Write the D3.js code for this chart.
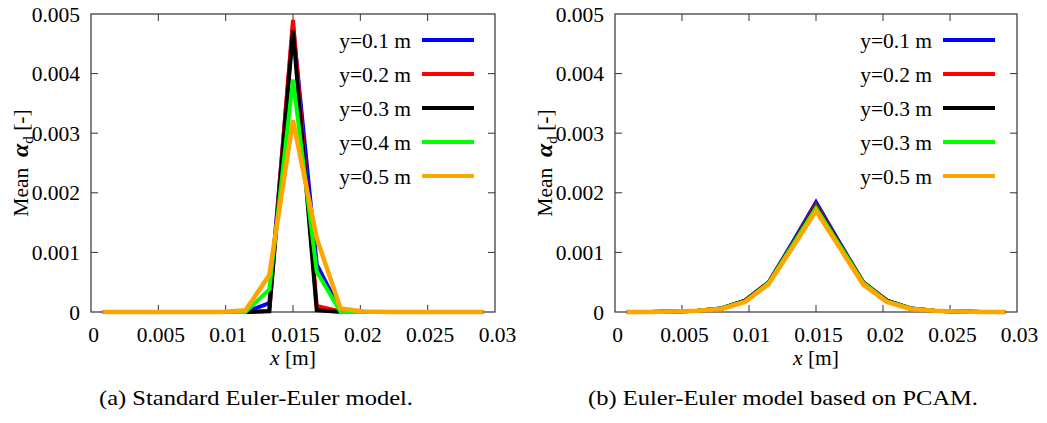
<!DOCTYPE html>
<html><head><meta charset="utf-8">
<script src="https://cdn.jsdelivr.net/npm/d3@7"></script>
<style>body{margin:0;background:#fff}svg{display:block}</style>
</head><body><svg id="c" width="1047" height="423" font-family="'Liberation Serif', 'DejaVu Serif', serif"></svg>
<script>
// x positions (cell centres, m)
const xCells = [0.00088,0.00265,0.00441,0.00618,0.00794,0.00971,0.01147,0.01324,0.015,0.01676,0.01853,0.02029,0.02206,0.02382,0.02559,0.02735,0.02912];
const xTicks = [0,0.005,0.01,0.015,0.02,0.025,0.03];
const xTickLabels = ["0","0.005","0.01","0.015","0.02","0.025","0.03"];
const yTicks = [0,0.001,0.002,0.003,0.004,0.005];
const yTickLabels = ["0","0.001","0.002","0.003","0.004","0.005"];
const seriesColors = ["#0000ff","#ff0000","#000000","#00ff00","#ffa500"];

// (a) Standard Euler-Euler model
const namesA = ["y=0.1 m","y=0.2 m","y=0.3 m","y=0.4 m","y=0.5 m"];
const a_y01 = [0,0,0,0,0,0,0,0.00015,0.0048,0.0008,0.00002,0,0,0,0,0,0];
const a_y02 = [0,0,0,0,0,0,0,0.00002,0.0049,0.0001,0.00001,0,0,0,0,0,0];
const a_y03 = [0,0,0,0,0,0,0,0.00001,0.00472,0.00003,0,0,0,0,0,0,0];
const a_y04 = [0,0,0,0,0,0,0,0.00038,0.0039,0.00068,0,0,0,0,0,0,0];
const a_y05 = [0,0,0,0,0,0,0.00003,0.00062,0.00322,0.00124,0.00006,0.00001,0,0,0,0,0];

// (b) Euler-Euler model based on PCAM
const namesB = ["y=0.1 m","y=0.2 m","y=0.3 m","y=0.3 m","y=0.5 m"];
const b_y01 = [0,0,0.00001,0.00002,0.00006,0.00019,0.0005,0.00116,0.00184,0.00116,0.0005,0.00019,0.00006,0.00002,0.00001,0,0];
const b_y02 = [0,0,0.00001,0.00002,0.00006,0.00019,0.0005,0.00114,0.0018,0.00114,0.0005,0.00019,0.00006,0.00002,0.00001,0,0];
const b_y03 = [0,0,0.00001,0.00002,0.00006,0.00019,0.00049,0.00113,0.00177,0.00113,0.00049,0.00019,0.00006,0.00002,0.00001,0,0];
const b_y04 = [0,0,0.00001,0.00002,0.00006,0.00018,0.00049,0.00112,0.00175,0.00112,0.00049,0.00018,0.00006,0.00002,0.00001,0,0];
const b_y05 = [0,0,0.00001,0.00002,0.00005,0.00017,0.00047,0.00108,0.0017,0.00108,0.00046,0.00017,0.00005,0.00002,0.00001,0,0];

const FONT = "'Liberation Serif', 'DejaVu Serif', serif";
const svg = d3.select("#c");
svg.append("rect").attr("width",1047).attr("height",423).attr("fill","#fff");

function txt(g){ return g.append("text").attr("font-family",FONT).attr("fill","#000"); }

function panel(opts){
  const {left,right,top,bottom,series,names,caption,capX,capW,legTextX,legLine} = opts;
  const x = d3.scaleLinear().domain([0,0.03]).range([left,right]);
  const y = d3.scaleLinear().domain([0,0.005]).range([bottom,top]);
  const g = svg.append("g");
  const tl = 7;
  xTicks.forEach((t,i)=>{
    if(i>0 && i<xTicks.length-1){
      g.append("line").attr("x1",x(t)).attr("x2",x(t)).attr("y1",bottom).attr("y2",bottom-tl).attr("stroke","#333");
      g.append("line").attr("x1",x(t)).attr("x2",x(t)).attr("y1",top).attr("y2",top+tl).attr("stroke","#333");
    }
    txt(g).attr("x",x(t)+2.5).attr("y",bottom+30).attr("text-anchor","middle")
      .attr("font-size","21.5px").text(xTickLabels[i]);
  });
  yTicks.forEach((t,i)=>{
    if(i>0 && i<yTicks.length-1){
      g.append("line").attr("x1",left).attr("x2",left+tl).attr("y1",y(t)).attr("y2",y(t)).attr("stroke","#333");
      g.append("line").attr("x1",right).attr("x2",right-tl).attr("y1",y(t)).attr("y2",y(t)).attr("stroke","#333");
    }
    txt(g).attr("x",left-11).attr("y",y(t)+7.5).attr("text-anchor","end")
      .attr("font-size","21.5px").text(yTickLabels[i]);
  });
  g.append("rect").attr("x",left).attr("y",top).attr("width",right-left).attr("height",bottom-top)
    .attr("fill","none").attr("stroke","#333").attr("stroke-width",1.2);
  const line = d3.line().x((d,i)=>x(xCells[i])).y(d=>y(d));
  series.forEach((s,k)=>{
    g.append("path").datum(s).attr("d",line).attr("fill","none")
      .attr("stroke",seriesColors[k]).attr("stroke-width",k===4?4.5:4).attr("stroke-linejoin","miter");
  });
  names.forEach((n,k)=>{
    const ly = 40 + k*34;
    txt(g).attr("x",legTextX).attr("y",ly+7.5).attr("text-anchor","end")
      .attr("font-size","21.5px").text(n);
    g.append("line").attr("x1",legLine[0]).attr("x2",legLine[1]).attr("y1",ly).attr("y2",ly)
      .attr("stroke",seriesColors[k]).attr("stroke-width",4);
  });
  const yl = txt(g).attr("transform",`translate(${left-63},163) rotate(-90)`)
    .attr("text-anchor","middle").attr("font-size","21.5px");
  yl.append("tspan").text("Mean\u00a0\u00a0");
  yl.append("tspan").attr("font-style","italic").attr("font-weight","bold").attr("font-size","24px").text("α");
  yl.append("tspan").attr("dy",5).attr("font-size","15px").text("d");
  yl.append("tspan").attr("dy",-5).text(" [-]");
  const xl = txt(g).attr("x",(left+right)/2).attr("y",bottom+53).attr("text-anchor","middle").attr("font-size","21.5px");
  xl.append("tspan").attr("font-style","italic").text("x");
  xl.append("tspan").text(" [m]");
  txt(g).attr("x",capX).attr("y",405).attr("textLength",capW).attr("lengthAdjust","spacingAndGlyphs")
    .attr("font-size","21px").text(caption);
}

panel({left:91,right:495,top:14,bottom:312,series:[a_y01,a_y02,a_y03,a_y04,a_y05],names:namesA,
  caption:"(a) Standard Euler-Euler model.",capX:99,capW:314,legTextX:411,legLine:[422,474]});
panel({left:615,right:1017,top:14,bottom:312,series:[b_y01,b_y02,b_y03,b_y04,b_y05],names:namesB,
  caption:"(b) Euler-Euler model based on PCAM.",capX:588,capW:390,legTextX:932,legLine:[943,995]});
</script></body></html>
